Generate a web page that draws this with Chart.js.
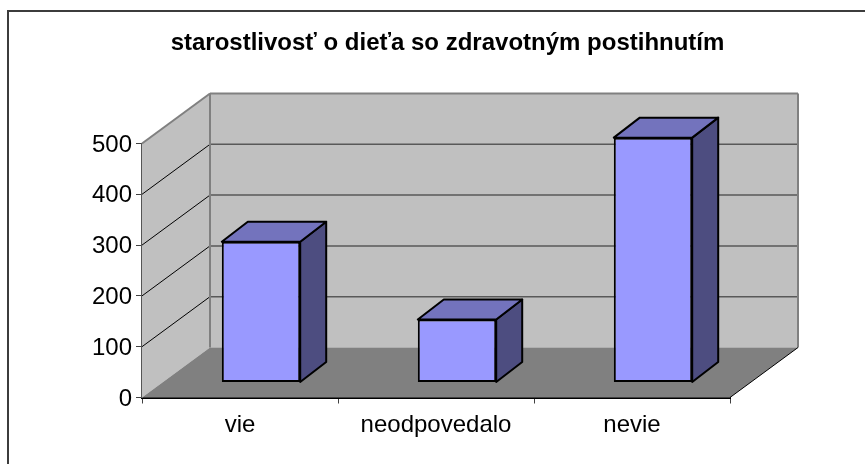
<!DOCTYPE html>
<html>
<head>
<meta charset="utf-8">
<style>html,body{margin:0;padding:0;background:#fff}canvas{display:block}</style>
<script src="https://cdn.jsdelivr.net/npm/chart.js@4"></script>
</head>
<body>
<div style="width:865px;height:464px;position:relative"><canvas id="c"></canvas></div>
<script>
const categories = ['vie', 'neodpovedalo', 'nevie'];
const values = [277, 124, 482];
const yTicks = [0, 100, 200, 300, 400, 500];
const chartTitle = 'starostlivosť o dieťa so zdravotným postihnutím';

const FONT = '"Liberation Sans", Arial, sans-serif';
const WALL = {dx: 68, dy: -50};      // depth of the whole plot box
const BAR_SHIFT = {dx: 21, dy: -15}; // bar offset from the front plane
const BAR_DEPTH = {dx: 26, dy: -20}; // depth of one bar

function poly(ctx, pts, fill, stroke, lw) {
  ctx.beginPath();
  pts.forEach((p, i) => i ? ctx.lineTo(p[0], p[1]) : ctx.moveTo(p[0], p[1]));
  ctx.closePath();
  if (fill) { ctx.fillStyle = fill; ctx.fill(); }
  if (stroke) { ctx.strokeStyle = stroke; ctx.lineWidth = lw; ctx.lineJoin = 'round'; ctx.stroke(); }
}
function line(ctx, x1, y1, x2, y2, color, lw) {
  ctx.beginPath(); ctx.moveTo(x1, y1); ctx.lineTo(x2, y2);
  ctx.strokeStyle = color; ctx.lineWidth = lw; ctx.stroke();
}

const box3d = {
  id: 'box3d',
  afterLayout(chart) {
    // the title is centred on the whole frame, not on the plot
    chart.titleBlock.left = 30;
    chart.titleBlock.right = 865;
  },
  beforeDraw(chart) {
    const ctx = chart.ctx;
    ctx.save();
    ctx.fillStyle = '#fff';
    ctx.fillRect(0, 0, chart.width, chart.height);
    // outer frame: only left and top edges are visible
    ctx.strokeStyle = '#3c3c3c'; ctx.lineWidth = 2;
    ctx.beginPath(); ctx.moveTo(8, 464); ctx.lineTo(8, 11); ctx.lineTo(865, 11); ctx.stroke();
    ctx.restore();
  },
  beforeDatasetsDraw(chart) {
    const {ctx, chartArea: a, scales: {y}} = chart;
    const L = a.left, R = a.right, T = y.getPixelForValue(500), B = y.getPixelForValue(0);
    const dx = WALL.dx, dy = WALL.dy;
    ctx.save();
    // walls and floor
    poly(ctx, [[L + dx, T + dy], [R + dx, T + dy], [R + dx, B + dy], [L + dx, B + dy]], '#c0c0c0');
    poly(ctx, [[L, T], [L + dx, T + dy], [L + dx, B + dy], [L, B]], '#c0c0c0');
    poly(ctx, [[L, B], [L + dx, B + dy], [R + dx, B + dy], [R, B]], '#808080');
    // gridlines
    yTicks.forEach(v => {
      const py = y.getPixelForValue(v);
      if (v > 0 && v < 500) {
        line(ctx, L, py, L + dx, py + dy, '#000', 1);
      }
      if (v > 0) line(ctx, L + dx, py + dy, R + dx, py + dy, v === 500 ? '#808080' : '#595959', v === 500 ? 2 : 1.5);
    });
    // box outlines
    line(ctx, L, T, L + dx, T + dy, '#808080', 2);
    line(ctx, L + dx, T + dy, L + dx, B + dy, '#808080', 2);
    line(ctx, R + dx, T + dy, R + dx, B + dy, '#808080', 2);
    line(ctx, R, B, R + dx, B + dy, '#000', 1);
    ctx.restore();

    // bar depth faces, then the library draws the fronts in the shifted frame
    ctx.save();
    ctx.translate(BAR_SHIFT.dx, BAR_SHIFT.dy);
    const bd = BAR_DEPTH;
    chart.getDatasetMeta(0).data.forEach(el => {
      const {x, y: top, base, width} = el.getProps(['x', 'y', 'base', 'width'], true);
      const l = x - width / 2, r = x + width / 2;
      poly(ctx, [[r, top], [r + bd.dx, top + bd.dy], [r + bd.dx, base + bd.dy], [r, base]], '#4d4d80', '#000', 2);
      poly(ctx, [[l, top], [l + bd.dx, top + bd.dy], [r + bd.dx, top + bd.dy], [r, top]], '#7373bd', '#000', 2);
    });
  },
  afterDatasetsDraw(chart) {
    chart.ctx.restore();
  }
};

new Chart(document.getElementById('c'), {
  type: 'bar',
  data: {
    labels: categories,
    datasets: [{
      data: values,
      backgroundColor: '#9999ff',
      borderColor: '#000',
      borderWidth: 2,
      borderSkipped: false,
      categoryPercentage: 0.4,
      barPercentage: 1
    }]
  },
  plugins: [box3d],
  options: {
    responsive: true,
    maintainAspectRatio: false,
    animation: false,
    layout: {padding: {left: 0, right: 135, top: 0, bottom: 0}},
    plugins: {
      legend: {display: false},
      tooltip: {enabled: false},
      title: {
        display: true,
        text: chartTitle,
        color: '#000',
        font: {family: FONT, size: 24, weight: 'bold', lineHeight: 1},
        padding: {top: 31, bottom: 88.5}
      }
    },
    scales: {
      x: {
        afterFit(s) { s.height = 66.5; },
        grid: {display: true, drawOnChartArea: false, drawTicks: true, tickLength: 6, color: '#404040', offset: true},
        border: {display: true, color: '#000', width: 2},
        ticks: {color: '#000', font: {family: FONT, size: 24}, padding: 7, maxRotation: 0}
      },
      y: {
        min: 0, max: 500,
        afterFit(s) { s.width = 142; },
        afterBuildTicks(s) { s.ticks = yTicks.map(v => ({value: v})); },
        grid: {display: true, drawOnChartArea: false, drawTicks: true, tickLength: 6, color: '#404040'},
        border: {display: true, color: '#555', width: 2},
        ticks: {color: '#000', font: {family: FONT, size: 24}, padding: 4, labelOffset: 1.5}
      }
    }
  }
});
</script>
</body>
</html>
